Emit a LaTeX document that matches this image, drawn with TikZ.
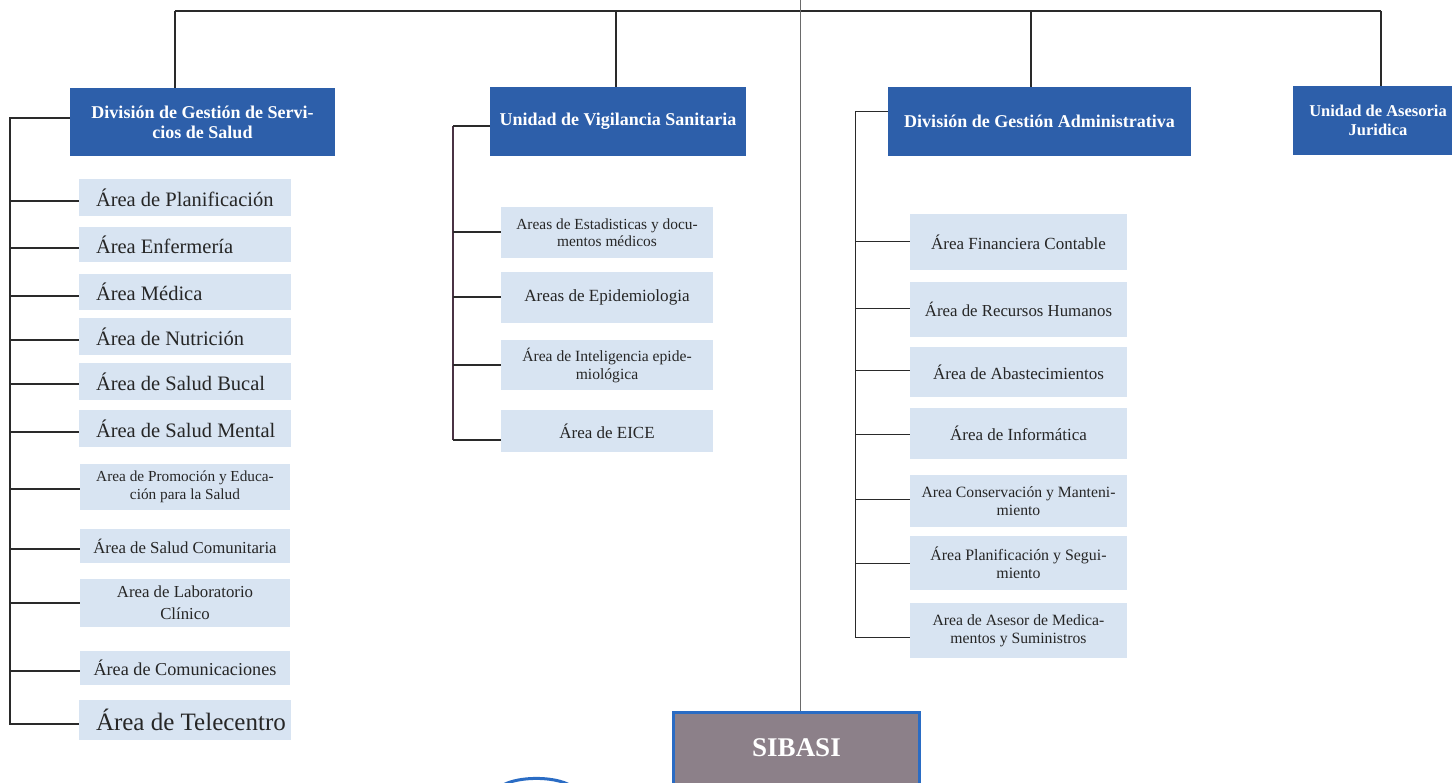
\documentclass[tikz,border=0pt]{standalone}
\usepackage{fontspec}
\setmainfont{Liberation Serif}
\definecolor{hblue}{HTML}{2D5FAA}
\definecolor{lblue}{HTML}{D8E4F2}
\definecolor{sgray}{HTML}{8C8089}
\definecolor{sborder}{HTML}{2A6CC4}
\definecolor{lnk}{HTML}{2A2A2A}
\definecolor{brk}{HTML}{4A3344}
\definecolor{thin}{HTML}{6A6A6A}
\newcommand{\fsz}[1]{\fontsize{#1}{#1}\selectfont}
\newcommand{\fszb}[2]{\fontsize{#1}{#2}\selectfont}
\newcommand{\lefttxt}[1]{\makebox[178pt][l]{#1}}
\tikzset{
  hbox/.style={fill=hblue, text=white, font=\bfseries\fszb{18}{20}, align=center, inner sep=0pt},
  abox/.style={fill=lblue, text=black!85, align=center, inner sep=0pt, minimum width=210pt},
  lbox/.style={fill=lblue, text=black!85, inner ysep=0pt, inner xsep=17pt, minimum width=210pt},
  conn/.style={draw=lnk, line width=1.3pt},
  bconn/.style={draw=brk, line width=2.8pt},
}
\begin{document}
\begin{tikzpicture}[x=1pt,y=-1pt]
\useasboundingbox (0,0) rectangle (1452,783);
% header boxes
\node[hbox, minimum width=265pt, minimum height=68pt] (h1) at (202.5,122) {División de Gestión de Servi-\\cios de Salud};
\node[hbox, minimum width=256pt, minimum height=69pt] (h2) at (618,121.5) {Unidad de Vigilancia Sanitaria};
\node[hbox, minimum width=303pt, minimum height=69pt] (h3) at (1039.5,121.5) {División de Gestión Administrativa};
\node[hbox, minimum width=170pt, minimum height=69pt, font=\bfseries\fszb{16.5}{19}] (h4) at (1378,120.5) {Unidad de Asesoria\\Juridica};
% SIBASI
\node[fill=sgray, draw=sborder, line width=3pt, minimum width=246pt, minimum height=72pt, text=white, font=\bfseries\fsz{27}] (sib) at (796.5,748) {SIBASI};
% top connectors
\coordinate (tl) at (175,11);
\coordinate (tr) at (1381,11);
\coordinate (d2) at (616,11);
\coordinate (d3) at (1031,11);
\coordinate (ctop) at (800,0);
\draw[conn] (tl) -- (tr);
\draw[conn] (tl) -- (tl |- h1.north);
\draw[conn] (d2) -- (d2 |- h2.north);
\draw[conn] (d3) -- (d3 |- h3.north);
\draw[conn] (tr) -- (tr |- h4.north);
\draw[draw=thin, line width=0.7pt] (ctop) -- (ctop |- sib.north);
% left column items
\node[lbox, minimum height=37pt, font=\fsz{20.5}] (l1) at (185,198) {\lefttxt{Área de Planificación}};
\node[lbox, minimum height=35pt, font=\fsz{20.5}] (l2) at (185,245) {\lefttxt{Área Enfermería}};
\node[lbox, minimum height=36pt, font=\fsz{20.5}] (l3) at (185,292) {\lefttxt{Área Médica}};
\node[lbox, minimum height=37pt, font=\fsz{20.5}] (l4) at (185,337) {\lefttxt{Área de Nutrición}};
\node[lbox, minimum height=37pt, font=\fsz{20.5}] (l5) at (185,382) {\lefttxt{Área de Salud Bucal}};
\node[lbox, minimum height=37pt, font=\fsz{20.5}] (l6) at (185,429) {\lefttxt{Área de Salud Mental}};
\node[abox, minimum height=46pt, font=\fszb{15.3}{18}] (l7) at (185,487) {Area de Promoción y Educa-\\ción para la Salud};
\node[abox, minimum height=34pt, font=\fsz{16.8}] (l8) at (185,546) {Área de Salud Comunitaria};
\node[abox, minimum height=48pt, font=\fszb{16.8}{22}] (l9) at (185,603) {Area de Laboratorio\\Clínico};
\node[abox, minimum height=34pt, font=\fsz{18.2}] (l10) at (185,668) {Área de Comunicaciones};
\node[lbox, minimum height=40pt, font=\fsz{25}] (l11) at (185,720) {\lefttxt{Área de Telecentro}};
\coordinate (lt) at (10,118);
\coordinate (lb) at (10,724);
\draw[conn] (h1.west |- lt) -- (lt) -- (lb) -- (l11.west |- lb);
\foreach \i/\yy in {1/201,2/248,3/296,4/340,5/384,6/432,7/489,8/549,9/603,10/671}{
  \draw[conn] (10,\yy) -- (l\i.west |- 0,\yy);
}
% middle column items
\node[abox, minimum width=212pt, minimum height=51pt, font=\fszb{15.4}{17.5}] (m1) at (607,232.5) {Areas de Estadisticas y docu-\\mentos médicos};
\node[abox, minimum width=212pt, minimum height=51pt, font=\fsz{17.1}] (m2) at (607,297.5) {Areas de Epidemiologia};
\node[abox, minimum width=212pt, minimum height=50pt, font=\fszb{15.6}{18}] (m3) at (607,365) {Área de Inteligencia epide-\\miológica};
\node[abox, minimum width=212pt, minimum height=42pt, font=\fsz{17}] (m4) at (607,431) {Área de EICE};
\coordinate (mt) at (453,126);
\coordinate (mb) at (453,440);
\draw[bconn] (mb) -- (mt);
\draw[conn] (mt) -- (h2.west |- mt);
\draw[conn] (mb) -- (m4.west |- mb);
\foreach \i/\yy in {1/232,2/297,3/365}{
  \draw[conn] (453,\yy) -- (m\i.west |- 0,\yy);
}
% right column items
\node[abox, minimum width=217pt, minimum height=56pt, font=\fsz{17}] (r1) at (1018.5,242) {Área Financiera Contable};
\node[abox, minimum width=217pt, minimum height=55pt, font=\fsz{16.8}] (r2) at (1018.5,309.5) {Área de Recursos Humanos};
\node[abox, minimum width=217pt, minimum height=50pt, font=\fsz{17}] (r3) at (1018.5,372) {Área de Abastecimientos};
\node[abox, minimum width=217pt, minimum height=51pt, font=\fsz{17}] (r4) at (1018.5,433.5) {Área de Informática};
\node[abox, minimum width=217pt, minimum height=52pt, font=\fszb{15.7}{18}] (r5) at (1018.5,501) {Area Conservación y Manteni-\\miento};
\node[abox, minimum width=217pt, minimum height=54pt, font=\fszb{15.9}{18}] (r6) at (1018.5,563) {Área Planificación y Segui-\\miento};
\node[abox, minimum width=217pt, minimum height=55pt, font=\fszb{15.7}{18}] (r7) at (1018.5,630.5) {Area de Asesor de Medica-\\mentos y Suministros};
\coordinate (rt) at (855,112);
\coordinate (rb) at (855,637);
\draw[draw=lnk, line width=1pt] (h3.west |- rt) -- (rt) -- (rb) -- (r7.west |- rb);
\foreach \i/\yy in {1/242,2/309,3/371,4/435,5/500,6/563}{
  \draw[draw=lnk, line width=1pt] (855,\yy) -- (r\i.west |- 0,\yy);
}
% partial blue circle at bottom
\draw[draw=sborder, line width=3pt] (498,790) arc[start angle=170, end angle=10, x radius=39pt, y radius=14pt];
\end{tikzpicture}
\end{document}
